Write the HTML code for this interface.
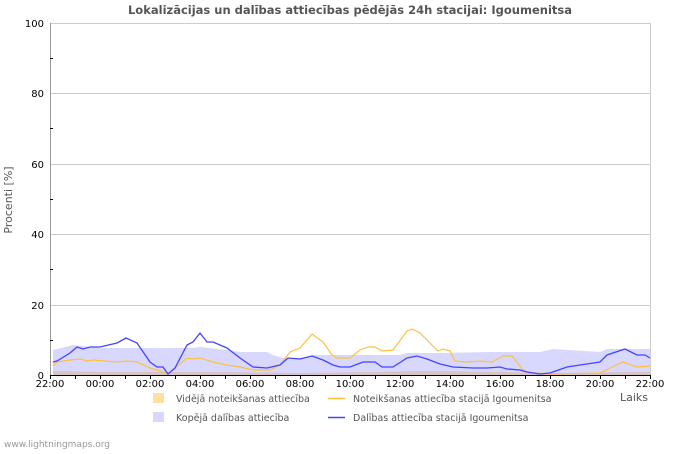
<!DOCTYPE html>
<html><head><meta charset="utf-8"><style>
body{margin:0;background:#fff;width:700px;height:450px;overflow:hidden;font-family:"DejaVu Sans","Liberation Sans",sans-serif}
</style></head><body>
<svg width="700" height="450" xmlns="http://www.w3.org/2000/svg" font-family="DejaVu Sans, Liberation Sans, sans-serif">
<text x="350" y="14" text-anchor="middle" font-size="11.5" font-weight="bold" fill="#555">Lokalizācijas un dalības attiecības pēdējās 24h stacijai: Igoumenitsa</text>
<g stroke="#ccc" stroke-width="1">
<line x1="50" y1="23.5" x2="650" y2="23.5"/>
<line x1="50" y1="93.5" x2="650" y2="93.5"/>
<line x1="50" y1="164.5" x2="650" y2="164.5"/>
<line x1="50" y1="234.5" x2="650" y2="234.5"/>
<line x1="50" y1="305.5" x2="650" y2="305.5"/>
<line x1="650.5" y1="23" x2="650.5" y2="375"/>
</g>
<polygon fill="#d8d8ff" points="53,375 53,350 73,345 100,348 190,348 200,347 227,350 240,352 267,352 273,355 283,358 300,358 313,355 340,355 400,355 407,353 440,353 490,352 540,352 553,349 600,352 607,349 650,349 650,375"/>
<polygon fill="#d9c3c3" points="53,375 53,371 100,372 200,372 300,373 380,372 420,371 500,372 560,373 650,372 650,375"/>
<polyline fill="none" stroke="#ffc040" stroke-width="1.2" points="53,366 57,362 70,360 80,359 87,361 93,360 117,362 127,361 137,362 150,368 160,371 168,374 187,358 193,359 200,358 213,362 227,365 240,367 253,370 270,370 280,365 290,352 300,348 312,334 323,342 332,355 337,358 350,358 360,350 368,347 375,347 382,351 393,350 407,331 412,329 420,333 430,343 438,351 443,349 450,351 455,361 467,362 480,361 492,362 503,356 512,356 523,370 530,373 553,374 600,373 610,368 623,362 637,367 650,366"/>
<polyline fill="none" stroke="#4444ff" stroke-width="1.3" points="53,362 57,361 70,353 77,347 83,349 90,347 100,347 117,343 126,338 137,343 150,362 157,367 163,367 168,374 175,368 187,345 193,342 200,333 207,342 213,342 227,348 240,358 253,367 267,368 280,365 288,358 300,359 312,356 323,360 333,365 340,367 350,367 363,362 375,362 382,367 393,367 407,358 417,356 427,359 440,364 453,367 473,368 487,368 500,367 507,369 520,370 527,372 540,374 550,373 567,367 580,365 600,362 607,355 625,349 637,355 645,355 650,358"/>
<line x1="50.5" y1="23" x2="50.5" y2="375" stroke="#999"/>
<line x1="50" y1="375.5" x2="650" y2="375.5" stroke="#000"/>
<g stroke="#000">
<line x1="50" y1="58.5" x2="53" y2="58.5"/><line x1="50" y1="128.5" x2="53" y2="128.5"/><line x1="50" y1="199.5" x2="53" y2="199.5"/><line x1="50" y1="269.5" x2="53" y2="269.5"/><line x1="50" y1="340.5" x2="53" y2="340.5"/>
</g>
<g stroke="#000" id="tk"></g>
<g font-size="10" fill="#000" text-anchor="end">
<text x="44" y="27">100</text><text x="44" y="97">80</text><text x="44" y="168">60</text><text x="44" y="238">40</text><text x="44" y="309">20</text><text x="44" y="379">0</text>
</g>
<g font-size="10" fill="#000" text-anchor="middle">
<text x="50" y="387">22:00</text><text x="100" y="387">00:00</text><text x="150" y="387">02:00</text><text x="200" y="387">04:00</text><text x="250" y="387">06:00</text><text x="300" y="387">08:00</text><text x="350" y="387">10:00</text><text x="400" y="387">12:00</text><text x="450" y="387">14:00</text><text x="500" y="387">16:00</text><text x="550" y="387">18:00</text><text x="600" y="387">20:00</text><text x="650" y="387">22:00</text>
</g>
<text x="620" y="401" font-size="11" fill="#555">Laiks</text>
<text transform="translate(12,200) rotate(-90)" text-anchor="middle" font-size="11" fill="#555">Procenti   [%]</text>
<rect x="153" y="393" width="11" height="10" fill="#ffe0a0"/>
<text x="176" y="402" font-size="9.5" fill="#555">Vidējā noteikšanas attiecība</text>
<rect x="153" y="412" width="11" height="10" fill="#d8d8ff"/>
<text x="176" y="421" font-size="9.5" fill="#555">Kopējā dalības attiecība</text>
<line x1="328" y1="398.5" x2="345" y2="398.5" stroke="#ffc040" stroke-width="1.5"/>
<text x="353" y="402" font-size="9.5" fill="#555">Noteikšanas attiecība stacijā Igoumenitsa</text>
<line x1="328" y1="417.5" x2="345" y2="417.5" stroke="#4444ff" stroke-width="1.5"/>
<text x="353" y="421" font-size="9.5" fill="#555">Dalības attiecība stacijā Igoumenitsa</text>
<text x="4" y="447" font-size="9" fill="#999">www.lightningmaps.org</text>
</svg>
<script>
var g=document.getElementById('tk'),s='';
for(var i=0;i<=24;i++){var x=50+i*25+0.5;s+='<line x1="'+x+'" y1="375" x2="'+x+'" y2="379"/>';}
g.innerHTML=s;
</script>
</body></html>
